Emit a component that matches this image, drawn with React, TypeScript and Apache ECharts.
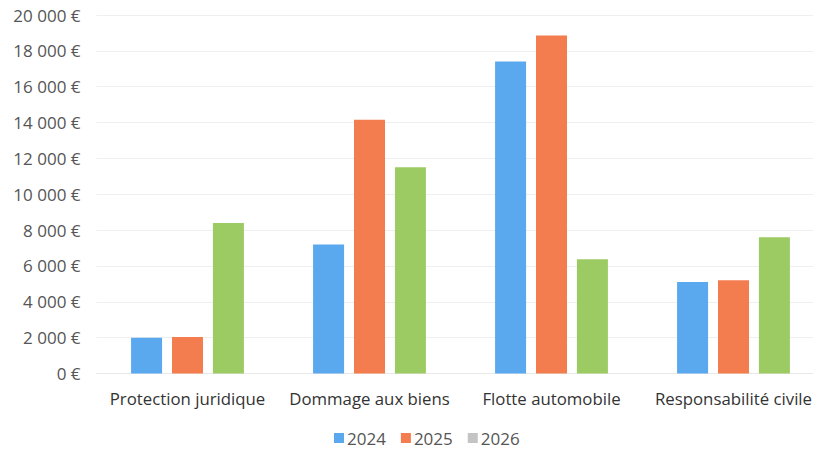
import React, { useEffect, useRef } from "react";
import * as echarts from "echarts";

const categories = ["Protection juridique", "Dommage aux biens", "Flotte automobile", "Responsabilité civile"];
const seriesNames = ["2024", "2025", "2026"];
const values2024 = [2000, 7200, 17400, 5100];
const values2025 = [2030, 14150, 18850, 5200];
const values2026 = [8400, 11500, 6370, 7600];
const barColors = ["#5aa8ee", "#f47d4f", "#9ccb63"];
const legendColors = ["#5aa8ee", "#f47d4f", "#c4c4c4"];

const fmt = (v: number) => {
  const s = String(Math.round(v));
  return s.replace(/\B(?=(\d{3})+(?!\d))/g, "\u00a0") + "\u00a0€";
};

const FONT = "'Open Sans', Lato, sans-serif";

export default function App() {
  const ref = useRef<HTMLDivElement>(null);
  useEffect(() => {
    const chart = echarts.init(ref.current!, undefined, { renderer: "svg" });
    const data = [values2024, values2025, values2026];
    chart.setOption({
      animation: false,
      backgroundColor: "#ffffff",
      textStyle: { fontFamily: FONT },
      grid: { left: 96.5, top: 15, bottom: 78.5, width: 728, containLabel: false },
      legend: {
        top: 426,
        left: 329,
        padding: [2, 5, 2, 5],
        itemWidth: 10,
        itemHeight: 10,
        itemGap: 15,
        icon: "rect",
        textStyle: { fontSize: 17, lineHeight: 20, color: "#555", fontFamily: FONT, padding: [0, 0, 0, -2] },
        data: seriesNames.map((n, i) => ({ name: n, itemStyle: { color: legendColors[i] } })),
      },
      xAxis: {
        type: "category",
        data: categories,
        axisLine: { show: true, lineStyle: { color: "#e8e8e8" } },
        axisTick: { show: false },
        axisLabel: { fontSize: 16.8, color: "#333", margin: 16, interval: 0 },
      },
      yAxis: {
        type: "value",
        min: 0,
        max: 20000,
        interval: 2000,
        axisLine: { show: false },
        axisTick: { show: false },
        splitLine: { lineStyle: { color: "#efefef" } },
        axisLabel: { fontSize: 17, color: "#555", margin: 16, formatter: fmt },
      },
      series: seriesNames.map((n, i) => ({
        name: n,
        type: "bar",
        data: data[i],
        barWidth: 31,
        barGap: "32%",
        itemStyle: { color: barColors[i] },
      })),
    });
    return () => chart.dispose();
  }, []);
  return (
    <div style={{ width: 813, height: 452, position: "absolute", left: 0, top: 0, overflow: "hidden", background: "#fff" }}>
      <div ref={ref} style={{ width: 840, height: 452 }} />
    </div>
  );
}
